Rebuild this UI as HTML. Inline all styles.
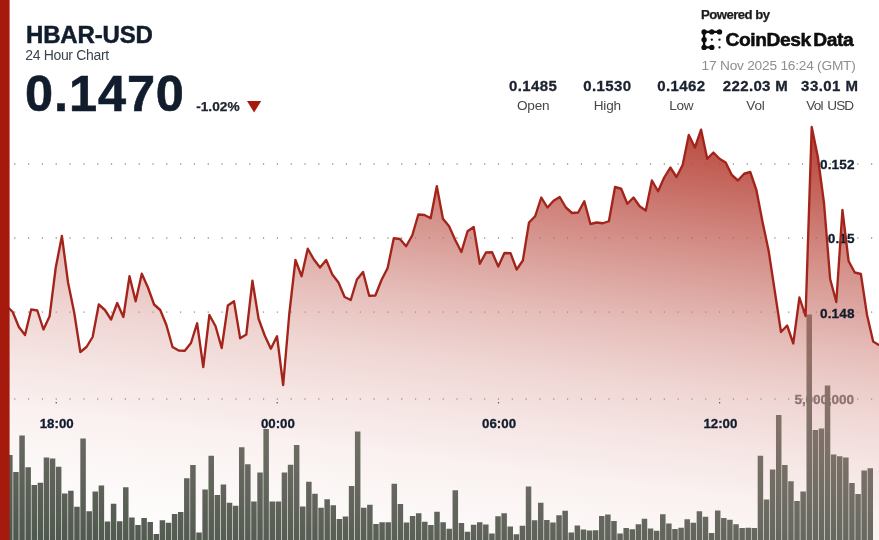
<!DOCTYPE html>
<html lang="en"><head><meta charset="utf-8"><title>HBAR-USD 24 Hour Chart</title>
<style>html,body{margin:0;padding:0;background:#fff;overflow:hidden}svg{display:block}text{font-family:"Liberation Sans", sans-serif}</style></head><body>
<svg width="879" height="540" viewBox="0 0 879 540" role="img" aria-label="HBAR-USD 24 hour price and volume chart">
<defs><linearGradient id="ag" gradientUnits="userSpaceOnUse" x1="700" y1="125" x2="638.46" y2="617.31"><stop offset="0.0000" stop-color="#a71a0c" stop-opacity="0.800"/><stop offset="0.0500" stop-color="#a71a0c" stop-opacity="0.740"/><stop offset="0.1500" stop-color="#a71a0c" stop-opacity="0.610"/><stop offset="0.2500" stop-color="#a71a0c" stop-opacity="0.480"/><stop offset="0.4100" stop-color="#a71a0c" stop-opacity="0.290"/><stop offset="0.5300" stop-color="#a71a0c" stop-opacity="0.180"/><stop offset="0.6420" stop-color="#a71a0c" stop-opacity="0.110"/><stop offset="0.7420" stop-color="#a71a0c" stop-opacity="0.060"/><stop offset="0.8300" stop-color="#a71a0c" stop-opacity="0.035"/><stop offset="1.0000" stop-color="#a71a0c" stop-opacity="0.000"/></linearGradient><linearGradient id="wg" gradientUnits="userSpaceOnUse" x1="700" y1="125" x2="638.46" y2="617.31"><stop offset="0.0000" stop-color="#fff" stop-opacity="0.570"/><stop offset="0.9900" stop-color="#fff" stop-opacity="0.000"/></linearGradient></defs>
<rect x="0" y="0" width="879" height="540" fill="#fff"/>
<line x1="14.2" y1="164" x2="879" y2="164" stroke="#adadad" stroke-width="1.9" stroke-dasharray="1.2 12.62"/>
<line x1="14.2" y1="238" x2="879" y2="238" stroke="#adadad" stroke-width="1.9" stroke-dasharray="1.2 12.62"/>
<line x1="14.2" y1="312.1" x2="879" y2="312.1" stroke="#adadad" stroke-width="1.9" stroke-dasharray="1.2 12.62"/>
<line x1="14.2" y1="399" x2="879" y2="399" stroke="#adadad" stroke-width="1.9" stroke-dasharray="1.2 12.62"/>
<rect x="55.65" y="402" width="1.2" height="1.4" fill="#333"/>
<rect x="276.6" y="402" width="1.2" height="1.4" fill="#333"/>
<rect x="497.9" y="402" width="1.2" height="1.4" fill="#333"/>
<rect x="719" y="402" width="1.2" height="1.4" fill="#333"/>
<text x="854" y="403.8" text-anchor="end" font-size="13.6" font-weight="700" fill="#5c5c5c" stroke="#5c5c5c" stroke-width="0.3" letter-spacing="-0.1">5,000,000</text>
<path d="M7.1 455h5.5V540h-5.5zM13.2 472h5.5V540h-5.5zM19.3 435.5h5.5V540h-5.5zM25.41 467.25h5.5V540h-5.5zM31.51 485h5.5V540h-5.5zM37.61 482.75h5.5V540h-5.5zM43.71 457.5h5.5V540h-5.5zM49.82 458.5h5.5V540h-5.5zM55.92 466.75h5.5V540h-5.5zM62.02 493.5h5.5V540h-5.5zM68.12 490.75h5.5V540h-5.5zM74.22 506.75h5.5V540h-5.5zM80.33 438.5h5.5V540h-5.5zM86.43 511.25h5.5V540h-5.5zM92.53 491.5h5.5V540h-5.5zM98.63 485.5h5.5V540h-5.5zM104.74 521.5h5.5V540h-5.5zM110.84 503.75h5.5V540h-5.5zM116.94 521.25h5.5V540h-5.5zM123.04 487.25h5.5V540h-5.5zM129.14 517.5h5.5V540h-5.5zM135.25 525h5.5V540h-5.5zM141.35 518h5.5V540h-5.5zM147.45 522h5.5V540h-5.5zM153.55 534h5.5V540h-5.5zM159.66 520.25h5.5V540h-5.5zM165.76 522.75h5.5V540h-5.5zM171.86 514h5.5V540h-5.5zM177.96 512h5.5V540h-5.5zM184.06 478.25h5.5V540h-5.5zM190.17 465h5.5V540h-5.5zM196.27 532.5h5.5V540h-5.5zM202.37 489.5h5.5V540h-5.5zM208.47 455.75h5.5V540h-5.5zM214.57 495h5.5V540h-5.5zM220.68 484.5h5.5V540h-5.5zM226.78 502.75h5.5V540h-5.5zM232.88 505.75h5.5V540h-5.5zM238.98 447.25h5.5V540h-5.5zM245.09 464.25h5.5V540h-5.5zM251.19 501.5h5.5V540h-5.5zM257.29 472.5h5.5V540h-5.5zM263.39 429h5.5V540h-5.5zM269.49 501.5h5.5V540h-5.5zM275.6 501.5h5.5V540h-5.5zM281.7 472.5h5.5V540h-5.5zM287.8 464.75h5.5V540h-5.5zM293.9 445h5.5V540h-5.5zM300.01 506.5h5.5V540h-5.5zM306.11 481.75h5.5V540h-5.5zM312.21 493.75h5.5V540h-5.5zM318.31 507.75h5.5V540h-5.5zM324.41 499.25h5.5V540h-5.5zM330.52 505.25h5.5V540h-5.5zM336.62 519h5.5V540h-5.5zM342.72 516.5h5.5V540h-5.5zM348.82 486h5.5V540h-5.5zM354.93 431.5h5.5V540h-5.5zM361.03 507.75h5.5V540h-5.5zM367.13 504.75h5.5V540h-5.5zM373.23 524h5.5V540h-5.5zM379.33 522.25h5.5V540h-5.5zM385.44 522.25h5.5V540h-5.5zM391.54 483.75h5.5V540h-5.5zM397.64 504h5.5V540h-5.5zM403.74 522.5h5.5V540h-5.5zM409.85 516h5.5V540h-5.5zM415.95 513.25h5.5V540h-5.5zM422.05 521.75h5.5V540h-5.5zM428.15 525h5.5V540h-5.5zM434.25 511.75h5.5V540h-5.5zM440.36 522.25h5.5V540h-5.5zM446.46 528.75h5.5V540h-5.5zM452.56 490.25h5.5V540h-5.5zM458.66 523h5.5V540h-5.5zM464.76 531.75h5.5V540h-5.5zM470.87 524.75h5.5V540h-5.5zM476.97 522.25h5.5V540h-5.5zM483.07 524.5h5.5V540h-5.5zM489.17 533.5h5.5V540h-5.5zM495.28 516.25h5.5V540h-5.5zM501.38 513.25h5.5V540h-5.5zM507.48 526.5h5.5V540h-5.5zM513.58 534.25h5.5V540h-5.5zM519.68 525.75h5.5V540h-5.5zM525.79 486.5h5.5V540h-5.5zM531.89 520.25h5.5V540h-5.5zM537.99 502.75h5.5V540h-5.5zM544.09 520h5.5V540h-5.5zM550.2 522.5h5.5V540h-5.5zM556.3 515.25h5.5V540h-5.5zM562.4 510.75h5.5V540h-5.5zM568.5 532.5h5.5V540h-5.5zM574.6 525.5h5.5V540h-5.5zM580.71 529.5h5.5V540h-5.5zM586.81 530.5h5.5V540h-5.5zM592.91 530.25h5.5V540h-5.5zM599.01 516h5.5V540h-5.5zM605.12 514.5h5.5V540h-5.5zM611.22 521h5.5V540h-5.5zM617.32 533.5h5.5V540h-5.5zM623.42 528h5.5V540h-5.5zM629.52 529.25h5.5V540h-5.5zM635.63 524.25h5.5V540h-5.5zM641.73 518.75h5.5V540h-5.5zM647.83 528.5h5.5V540h-5.5zM653.93 530.75h5.5V540h-5.5zM660.04 514.25h5.5V540h-5.5zM666.14 523.5h5.5V540h-5.5zM672.24 529h5.5V540h-5.5zM678.34 527.75h5.5V540h-5.5zM684.44 519.25h5.5V540h-5.5zM690.55 522.75h5.5V540h-5.5zM696.65 511.25h5.5V540h-5.5zM702.75 516.75h5.5V540h-5.5zM708.85 533h5.5V540h-5.5zM714.96 510.5h5.5V540h-5.5zM721.06 518h5.5V540h-5.5zM727.16 519.75h5.5V540h-5.5zM733.26 524.25h5.5V540h-5.5zM739.36 528h5.5V540h-5.5zM745.47 527.75h5.5V540h-5.5zM751.57 528h5.5V540h-5.5zM757.67 455.75h5.5V540h-5.5zM763.77 499.5h5.5V540h-5.5zM769.88 469.5h5.5V540h-5.5zM775.98 415h5.5V540h-5.5zM782.08 465h5.5V540h-5.5zM788.18 481.25h5.5V540h-5.5zM794.28 501h5.5V540h-5.5zM800.39 491.5h5.5V540h-5.5zM806.49 314.5h5.5V540h-5.5zM812.59 430h5.5V540h-5.5zM818.69 428.5h5.5V540h-5.5zM824.79 385.5h5.5V540h-5.5zM830.9 454.5h5.5V540h-5.5zM837 456.25h5.5V540h-5.5zM843.1 457.5h5.5V540h-5.5zM849.2 483h5.5V540h-5.5zM855.31 494h5.5V540h-5.5zM861.41 470.5h5.5V540h-5.5zM867.51 468.25h5.5V540h-5.5z" fill="#50594f"/>
<path d="M6.59 306 L12.73 312 L18.88 327 L25.02 335 L31.17 309.5 L37.32 310.5 L43.46 329.5 L49.61 316.25 L55.75 267.5 L61.9 236 L68.05 282.5 L74.19 312.5 L80.34 352 L86.48 347 L92.63 337 L98.78 304.5 L104.92 310 L111.07 319.5 L117.21 303 L123.36 317 L129.51 276.25 L135.65 301.25 L141.8 273.75 L147.94 287.5 L154.09 304.5 L160.24 310 L166.38 325 L172.53 347 L178.67 350.5 L184.82 350.75 L190.97 343 L197.11 323.25 L203.26 367 L209.4 315 L215.55 326.25 L221.7 348 L227.84 305.5 L233.99 301.25 L240.13 338.25 L246.28 334.5 L252.43 280.75 L258.57 318.75 L264.72 335.5 L270.86 348.75 L277.01 336.25 L283.16 385 L289.3 313.75 L295.45 260 L301.59 276.25 L307.74 248.75 L313.89 259.5 L320.03 267.5 L326.18 260 L332.32 274.5 L338.47 282.5 L344.62 297 L350.76 300 L356.91 279.5 L363.05 272 L369.2 295.75 L375.35 295.5 L381.49 280 L387.64 268 L393.78 238.25 L399.93 239 L406.08 246.25 L412.22 235.5 L418.37 214.5 L424.51 215 L430.66 218.25 L436.81 186.25 L442.95 218.75 L449.1 226.25 L455.24 240 L461.39 252 L467.54 231.25 L473.68 227 L479.83 263.75 L485.97 252.5 L492.12 252.25 L498.27 266.5 L504.41 253 L510.56 253.25 L516.7 269.5 L522.85 260.5 L529 222.5 L535.14 216.25 L541.29 197.5 L547.43 207.5 L553.58 200.75 L559.73 197 L565.87 207.5 L572.02 213 L578.16 212.5 L584.31 201.25 L590.46 224 L596.6 222.5 L602.75 223.25 L608.89 221.25 L615.04 187 L621.19 188.75 L627.33 203.75 L633.48 197.5 L639.62 206.25 L645.77 210.5 L651.92 180.5 L658.06 191.25 L664.21 177.5 L670.35 167.5 L676.5 177 L682.65 165 L688.79 135 L694.94 147.5 L701.08 129.7 L707.23 158.75 L713.38 152.5 L719.52 158.75 L725.67 162.5 L731.81 175 L737.96 180.5 L744.11 173.75 L750.25 172 L756.4 190 L762.54 222 L768.69 251 L774.84 291.5 L780.98 332 L787.13 325.5 L793.27 343.5 L799.42 297.5 L805.57 316 L811.71 127 L817.86 157 L824 203 L830.15 279 L836.3 302 L842.44 210 L848.59 261 L854.73 272.5 L860.88 274 L867.03 315 L873.17 341.5 L879.32 345.2 L879.32 540 L6.59 540 Z" fill="url(#wg)"/>
<path d="M6.59 306 L12.73 312 L18.88 327 L25.02 335 L31.17 309.5 L37.32 310.5 L43.46 329.5 L49.61 316.25 L55.75 267.5 L61.9 236 L68.05 282.5 L74.19 312.5 L80.34 352 L86.48 347 L92.63 337 L98.78 304.5 L104.92 310 L111.07 319.5 L117.21 303 L123.36 317 L129.51 276.25 L135.65 301.25 L141.8 273.75 L147.94 287.5 L154.09 304.5 L160.24 310 L166.38 325 L172.53 347 L178.67 350.5 L184.82 350.75 L190.97 343 L197.11 323.25 L203.26 367 L209.4 315 L215.55 326.25 L221.7 348 L227.84 305.5 L233.99 301.25 L240.13 338.25 L246.28 334.5 L252.43 280.75 L258.57 318.75 L264.72 335.5 L270.86 348.75 L277.01 336.25 L283.16 385 L289.3 313.75 L295.45 260 L301.59 276.25 L307.74 248.75 L313.89 259.5 L320.03 267.5 L326.18 260 L332.32 274.5 L338.47 282.5 L344.62 297 L350.76 300 L356.91 279.5 L363.05 272 L369.2 295.75 L375.35 295.5 L381.49 280 L387.64 268 L393.78 238.25 L399.93 239 L406.08 246.25 L412.22 235.5 L418.37 214.5 L424.51 215 L430.66 218.25 L436.81 186.25 L442.95 218.75 L449.1 226.25 L455.24 240 L461.39 252 L467.54 231.25 L473.68 227 L479.83 263.75 L485.97 252.5 L492.12 252.25 L498.27 266.5 L504.41 253 L510.56 253.25 L516.7 269.5 L522.85 260.5 L529 222.5 L535.14 216.25 L541.29 197.5 L547.43 207.5 L553.58 200.75 L559.73 197 L565.87 207.5 L572.02 213 L578.16 212.5 L584.31 201.25 L590.46 224 L596.6 222.5 L602.75 223.25 L608.89 221.25 L615.04 187 L621.19 188.75 L627.33 203.75 L633.48 197.5 L639.62 206.25 L645.77 210.5 L651.92 180.5 L658.06 191.25 L664.21 177.5 L670.35 167.5 L676.5 177 L682.65 165 L688.79 135 L694.94 147.5 L701.08 129.7 L707.23 158.75 L713.38 152.5 L719.52 158.75 L725.67 162.5 L731.81 175 L737.96 180.5 L744.11 173.75 L750.25 172 L756.4 190 L762.54 222 L768.69 251 L774.84 291.5 L780.98 332 L787.13 325.5 L793.27 343.5 L799.42 297.5 L805.57 316 L811.71 127 L817.86 157 L824 203 L830.15 279 L836.3 302 L842.44 210 L848.59 261 L854.73 272.5 L860.88 274 L867.03 315 L873.17 341.5 L879.32 345.2 L879.32 540 L6.59 540 Z" fill="url(#ag)"/>
<text x="854.6" y="168.7" text-anchor="end" font-size="13.6" font-weight="700" fill="#111c2d" stroke="#111c2d" stroke-width="0.3" letter-spacing="0.1">0.152</text>
<text x="854.6" y="243.2" text-anchor="end" font-size="13.6" font-weight="700" fill="#111c2d" stroke="#111c2d" stroke-width="0.3" letter-spacing="0.1">0.15</text>
<text x="854.6" y="317.7" text-anchor="end" font-size="13.6" font-weight="700" fill="#111c2d" stroke="#111c2d" stroke-width="0.3" letter-spacing="0.1">0.148</text>
<path d="M6.59 306 L12.73 312 L18.88 327 L25.02 335 L31.17 309.5 L37.32 310.5 L43.46 329.5 L49.61 316.25 L55.75 267.5 L61.9 236 L68.05 282.5 L74.19 312.5 L80.34 352 L86.48 347 L92.63 337 L98.78 304.5 L104.92 310 L111.07 319.5 L117.21 303 L123.36 317 L129.51 276.25 L135.65 301.25 L141.8 273.75 L147.94 287.5 L154.09 304.5 L160.24 310 L166.38 325 L172.53 347 L178.67 350.5 L184.82 350.75 L190.97 343 L197.11 323.25 L203.26 367 L209.4 315 L215.55 326.25 L221.7 348 L227.84 305.5 L233.99 301.25 L240.13 338.25 L246.28 334.5 L252.43 280.75 L258.57 318.75 L264.72 335.5 L270.86 348.75 L277.01 336.25 L283.16 385 L289.3 313.75 L295.45 260 L301.59 276.25 L307.74 248.75 L313.89 259.5 L320.03 267.5 L326.18 260 L332.32 274.5 L338.47 282.5 L344.62 297 L350.76 300 L356.91 279.5 L363.05 272 L369.2 295.75 L375.35 295.5 L381.49 280 L387.64 268 L393.78 238.25 L399.93 239 L406.08 246.25 L412.22 235.5 L418.37 214.5 L424.51 215 L430.66 218.25 L436.81 186.25 L442.95 218.75 L449.1 226.25 L455.24 240 L461.39 252 L467.54 231.25 L473.68 227 L479.83 263.75 L485.97 252.5 L492.12 252.25 L498.27 266.5 L504.41 253 L510.56 253.25 L516.7 269.5 L522.85 260.5 L529 222.5 L535.14 216.25 L541.29 197.5 L547.43 207.5 L553.58 200.75 L559.73 197 L565.87 207.5 L572.02 213 L578.16 212.5 L584.31 201.25 L590.46 224 L596.6 222.5 L602.75 223.25 L608.89 221.25 L615.04 187 L621.19 188.75 L627.33 203.75 L633.48 197.5 L639.62 206.25 L645.77 210.5 L651.92 180.5 L658.06 191.25 L664.21 177.5 L670.35 167.5 L676.5 177 L682.65 165 L688.79 135 L694.94 147.5 L701.08 129.7 L707.23 158.75 L713.38 152.5 L719.52 158.75 L725.67 162.5 L731.81 175 L737.96 180.5 L744.11 173.75 L750.25 172 L756.4 190 L762.54 222 L768.69 251 L774.84 291.5 L780.98 332 L787.13 325.5 L793.27 343.5 L799.42 297.5 L805.57 316 L811.71 127 L817.86 157 L824 203 L830.15 279 L836.3 302 L842.44 210 L848.59 261 L854.73 272.5 L860.88 274 L867.03 315 L873.17 341.5 L879.32 345.2" fill="none" stroke="#a3241b" stroke-width="2.35" stroke-linejoin="round" stroke-linecap="butt"/>
<text x="56.7" y="428.2" text-anchor="middle" font-size="13.3" font-weight="700" fill="#111c2d" stroke="#111c2d" stroke-width="0.3">18:00</text>
<text x="277.9" y="428.2" text-anchor="middle" font-size="13.3" font-weight="700" fill="#111c2d" stroke="#111c2d" stroke-width="0.3">00:00</text>
<text x="499.1" y="428.2" text-anchor="middle" font-size="13.3" font-weight="700" fill="#111c2d" stroke="#111c2d" stroke-width="0.3">06:00</text>
<text x="720.4" y="428.2" text-anchor="middle" font-size="13.3" font-weight="700" fill="#111c2d" stroke="#111c2d" stroke-width="0.3">12:00</text>
<rect x="0" y="0" width="9.6" height="540" fill="#a61a0e"/>
<text x="26" y="42.6" font-size="24" font-weight="700" fill="#111c2d" stroke="#111c2d" stroke-width="0.5" letter-spacing="-0.15">HBAR-USD</text>
<text x="25.2" y="60" font-size="14" fill="#3c4450" letter-spacing="-0.33">24 Hour Chart</text>
<text x="25" y="111.2" font-size="50.5" font-weight="700" fill="#111c2d" stroke="#111c2d" stroke-width="0.6" letter-spacing="0.9">0.1470</text>
<text x="196.2" y="111" font-size="13.7" font-weight="700" fill="#20252e" stroke="#20252e" stroke-width="0.25">-1.02%</text>
<path d="M247 101h14.2l-7.1 11.5z" fill="#a61a0e"/>
<text x="701" y="19" font-size="13.2" font-weight="700" fill="#1c1c1c" stroke="#1c1c1c" stroke-width="0.25" letter-spacing="-0.55">Powered by</text>
<g fill="#0e0e0e" stroke="#0e0e0e">
<path d="M704.1 31.9H719.5 M704.1 31.9V47.4 M704.1 47.4H711.8" stroke-width="2.4" fill="none"/>
<circle cx="704.1" cy="31.9" r="2.7" stroke="none"/>
<circle cx="711.8" cy="31.9" r="2.7" stroke="none"/>
<circle cx="719.5" cy="31.9" r="2.7" stroke="none"/>
<circle cx="704.1" cy="39.7" r="2.7" stroke="none"/>
<circle cx="704.1" cy="47.4" r="2.7" stroke="none"/>
<circle cx="711.8" cy="47.4" r="2.7" stroke="none"/>
<circle cx="711.8" cy="39.7" r="1.15" stroke="none"/>
<circle cx="719.5" cy="39.7" r="1.15" stroke="none"/>
<circle cx="719.5" cy="47.4" r="1.15" stroke="none"/>
</g>
<text x="725.5" y="46.2" font-size="19.2" font-weight="700" fill="#0e0e0e" stroke="#0e0e0e" stroke-width="0.55" letter-spacing="-0.42">CoinDesk <tspan dx="-2.2">Data</tspan></text>
<text x="701.6" y="69.9" font-size="13.7" fill="#8e8e8e" letter-spacing="-0.22">17 Nov 2025 16:24 (GMT)</text>
<text x="533.2" y="90.5" text-anchor="middle" font-size="15" font-weight="700" fill="#1b2330" stroke="#1b2330" stroke-width="0.3" letter-spacing="0.4">0.1485</text>
<text x="533.2" y="110" text-anchor="middle" font-size="13.6" fill="#474747" letter-spacing="-0.2">Open</text>
<text x="607.3" y="90.5" text-anchor="middle" font-size="15" font-weight="700" fill="#1b2330" stroke="#1b2330" stroke-width="0.3" letter-spacing="0.4">0.1530</text>
<text x="607.3" y="110" text-anchor="middle" font-size="13.6" fill="#474747" letter-spacing="-0.2">High</text>
<text x="681.3" y="90.5" text-anchor="middle" font-size="15" font-weight="700" fill="#1b2330" stroke="#1b2330" stroke-width="0.3" letter-spacing="0.4">0.1462</text>
<text x="681.3" y="110" text-anchor="middle" font-size="13.6" fill="#474747" letter-spacing="-0.2">Low</text>
<text x="755.5" y="90.5" text-anchor="middle" font-size="15" font-weight="700" fill="#1b2330" stroke="#1b2330" stroke-width="0.3" letter-spacing="0.35">222.03 M</text>
<text x="755.5" y="110" text-anchor="middle" font-size="13.6" fill="#474747" letter-spacing="-0.2">Vol</text>
<text x="829.8" y="90.5" text-anchor="middle" font-size="15" font-weight="700" fill="#1b2330" stroke="#1b2330" stroke-width="0.3" letter-spacing="0.45">33.01 M</text>
<text x="829.8" y="110" text-anchor="middle" font-size="13.6" fill="#474747" letter-spacing="-0.9" word-spacing="1.8">Vol USD</text>
</svg></body></html>
